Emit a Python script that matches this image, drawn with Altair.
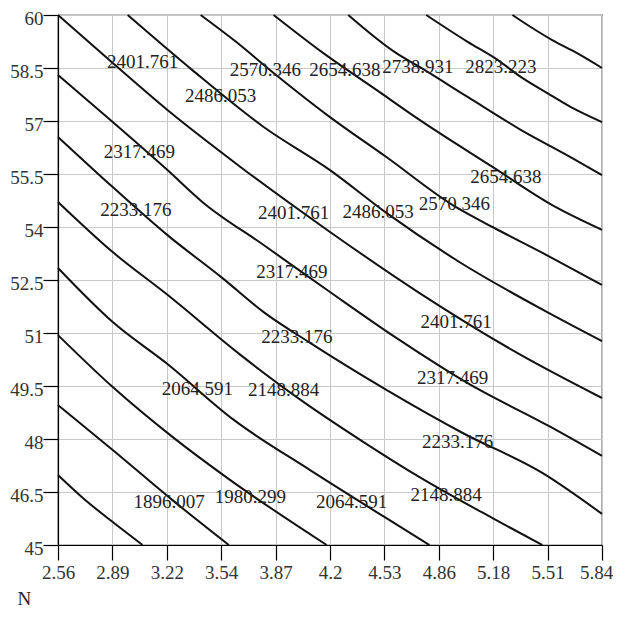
import altair as alt
import pandas as pd

# contour levels (the lowest and highest lines are unlabeled in the reference)
levels = [1811.715, 1896.007, 1980.299, 2064.591, 2148.884, 2233.176,
          2317.469, 2401.761, 2486.053, 2570.346, 2654.638, 2738.931,
          2823.223, 2907.516]

# points (x = N, y = second variable)
c01_x = [2.56, 2.71, 2.89, 3.07]
c01_y = [46.98, 46.33, 45.65, 45.00]
c02_x = [2.56, 2.89, 3.25, 3.59]
c02_y = [48.96, 47.69, 46.27, 45.00]
c03_x = [2.56, 2.89, 3.25, 3.58, 4.18]
c03_y = [50.94, 49.47, 48.06, 46.90, 45.00]
c04_x = [2.56, 2.89, 3.22, 3.62, 4.08, 4.54, 4.80]
c04_y = [52.84, 51.31, 50.12, 48.54, 47.12, 45.76, 45.00]
c05_x = [2.56, 2.89, 3.22, 3.66, 4.04, 4.40, 4.74, 5.18, 5.48]
c05_y = [54.71, 53.29, 52.08, 50.38, 49.05, 47.92, 46.92, 45.76, 45.00]
c06_x = [2.56, 2.89, 3.22, 3.55, 3.80, 4.08, 4.54, 5.00, 5.48, 5.84]
c06_y = [56.55, 55.13, 53.77, 52.56, 51.59, 50.72, 49.39, 48.17, 47.04, 45.88]
c07_x = [2.56, 2.89, 3.22, 3.43, 3.80, 4.20, 4.60, 5.03, 5.53, 5.84]
c07_y = [58.30, 56.97, 55.61, 54.71, 53.49, 52.16, 50.86, 49.58, 48.34, 47.52]
c08_x = [2.56, 2.89, 3.22, 3.66, 4.20, 4.74, 5.35, 5.84]
c08_y = [60.00, 58.64, 57.31, 55.70, 53.86, 52.13, 50.38, 49.16]
c09_x = [2.98, 3.37, 3.80, 4.20, 4.54, 4.98, 5.51, 5.84]
c09_y = [60.00, 58.44, 56.83, 55.61, 54.40, 53.01, 51.59, 50.77]
c10_x = [3.42, 3.62, 3.86, 4.20, 4.54, 4.94, 5.18, 5.54, 5.84]
c10_y = [60.00, 59.29, 58.36, 57.11, 55.98, 54.62, 54.00, 53.12, 52.36]
c11_x = [3.86, 4.16, 4.48, 4.74, 5.18, 5.54, 5.84]
c11_y = [60.00, 58.92, 57.88, 57.03, 55.70, 54.62, 53.92]
c12_x = [4.31, 4.60, 4.74, 5.03, 5.35, 5.65, 5.84]
c12_y = [60.00, 58.92, 58.53, 57.68, 56.75, 55.98, 55.47]
c13_x = [4.78, 5.03, 5.21, 5.35, 5.51, 5.65, 5.84]
c13_y = [60.00, 59.24, 58.73, 58.25, 57.79, 57.40, 56.97]
c14_x = [5.30, 5.41, 5.54, 5.69, 5.84]
c14_y = [60.00, 59.66, 59.29, 58.92, 58.50]

contours_x = [c01_x, c02_x, c03_x, c04_x, c05_x, c06_x, c07_x,
              c08_x, c09_x, c10_x, c11_x, c12_x, c13_x, c14_x]
contours_y = [c01_y, c02_y, c03_y, c04_y, c05_y, c06_y, c07_y,
              c08_y, c09_y, c10_y, c11_y, c12_y, c13_y, c14_y]

# contour labels
label_text = ["2401.761", "2486.053", "2570.346", "2654.638", "2738.931", "2823.223",
              "2317.469", "2233.176", "2401.761", "2486.053", "2570.346", "2654.638",
              "2317.469", "2233.176", "2401.761", "2317.469", "2233.176", "2148.884",
              "2064.591", "2148.884", "2064.591", "1896.007", "1980.299"]
label_x = [3.07, 3.54, 3.81, 4.29, 4.73, 5.23,
           3.05, 3.03, 3.98, 4.49, 4.95, 5.26,
           3.97, 4.00, 4.96, 4.94, 4.97, 4.90,
           4.33, 3.92, 3.40, 3.23, 3.72]
label_y = [58.67, 57.71, 58.44, 58.44, 58.53, 58.53,
           56.12, 54.48, 54.40, 54.42, 54.65, 55.42,
           52.73, 50.89, 51.31, 49.73, 47.92, 46.42,
           46.22, 49.39, 49.42, 46.22, 46.36]

x_ticks = [2.56, 2.888, 3.216, 3.544, 3.872, 4.2, 4.528, 4.856, 5.184, 5.512, 5.84]
y_ticks = [45, 46.5, 48, 49.5, 51, 52.5, 54, 55.5, 57, 58.5, 60]

rows = []
for lev, xs, ys in zip(levels, contours_x, contours_y):
    for i, (xv, yv) in enumerate(zip(xs, ys)):
        rows.append({"level": lev, "order": i, "N": xv, "Y": yv})
lines_df = pd.DataFrame(rows)
labels_df = pd.DataFrame({"text": label_text, "N": label_x, "Y": label_y})

FONT = "Liberation Serif"

x_scale = alt.Scale(domain=[2.56, 5.84], nice=False, zero=False)
y_scale = alt.Scale(domain=[45, 60], nice=False, zero=False)

x_axis = alt.Axis(values=x_ticks, format=".3~g", title="N",
                  titleX=-41, titleY=53, titleAlign="left", titleBaseline="middle",
                  titleFont=FONT, titleFontSize=19, titleFontWeight="normal",
                  titleColor="#222222",
                  labelFont=FONT, labelFontSize=19, labelColor="#333333",
                  labelPadding=3, tickSize=15, tickColor="#000000",
                  domainColor="#000000", gridColor="#c8c8c8", grid=True,
                  labelFlush=False,
                  labelOffset=alt.condition("datum.value > 5.8", alt.value(-6), alt.value(0)))
y_axis = alt.Axis(values=y_ticks, format=".4~g", title=None,
                  labelFont=FONT, labelFontSize=19, labelColor="#333333",
                  labelPadding=0, tickSize=15, tickColor="#000000",
                  domainColor="#000000", gridColor="#c8c8c8", grid=True,
                  labelFlush=False, labelOffset=3)

lines = alt.Chart(lines_df).mark_line(
    color="#111111", strokeWidth=2, interpolate="monotone"
).encode(
    x=alt.X("N:Q", scale=x_scale, axis=x_axis),
    y=alt.Y("Y:Q", scale=y_scale, axis=y_axis),
    detail="level:N",
    order="order:Q",
)

texts = alt.Chart(labels_df).mark_text(
    font=FONT, fontSize=19, color="#222222", align="center", baseline="middle"
).encode(
    x=alt.X("N:Q", scale=x_scale),
    y=alt.Y("Y:Q", scale=y_scale),
    text="text:N",
)

chart = (lines + texts).properties(
    width=544, height=530,
    autosize=alt.AutoSizeParams(type="none"),
    padding={"left": 50, "top": 7, "right": 11, "bottom": 66},
).configure_view(stroke="#000000", strokeWidth=1.2).configure_axis(
    domainWidth=1.2, tickWidth=1.2, gridWidth=1
)

chart.save("out.html", embed_options={"renderer": "svg", "actions": False})
